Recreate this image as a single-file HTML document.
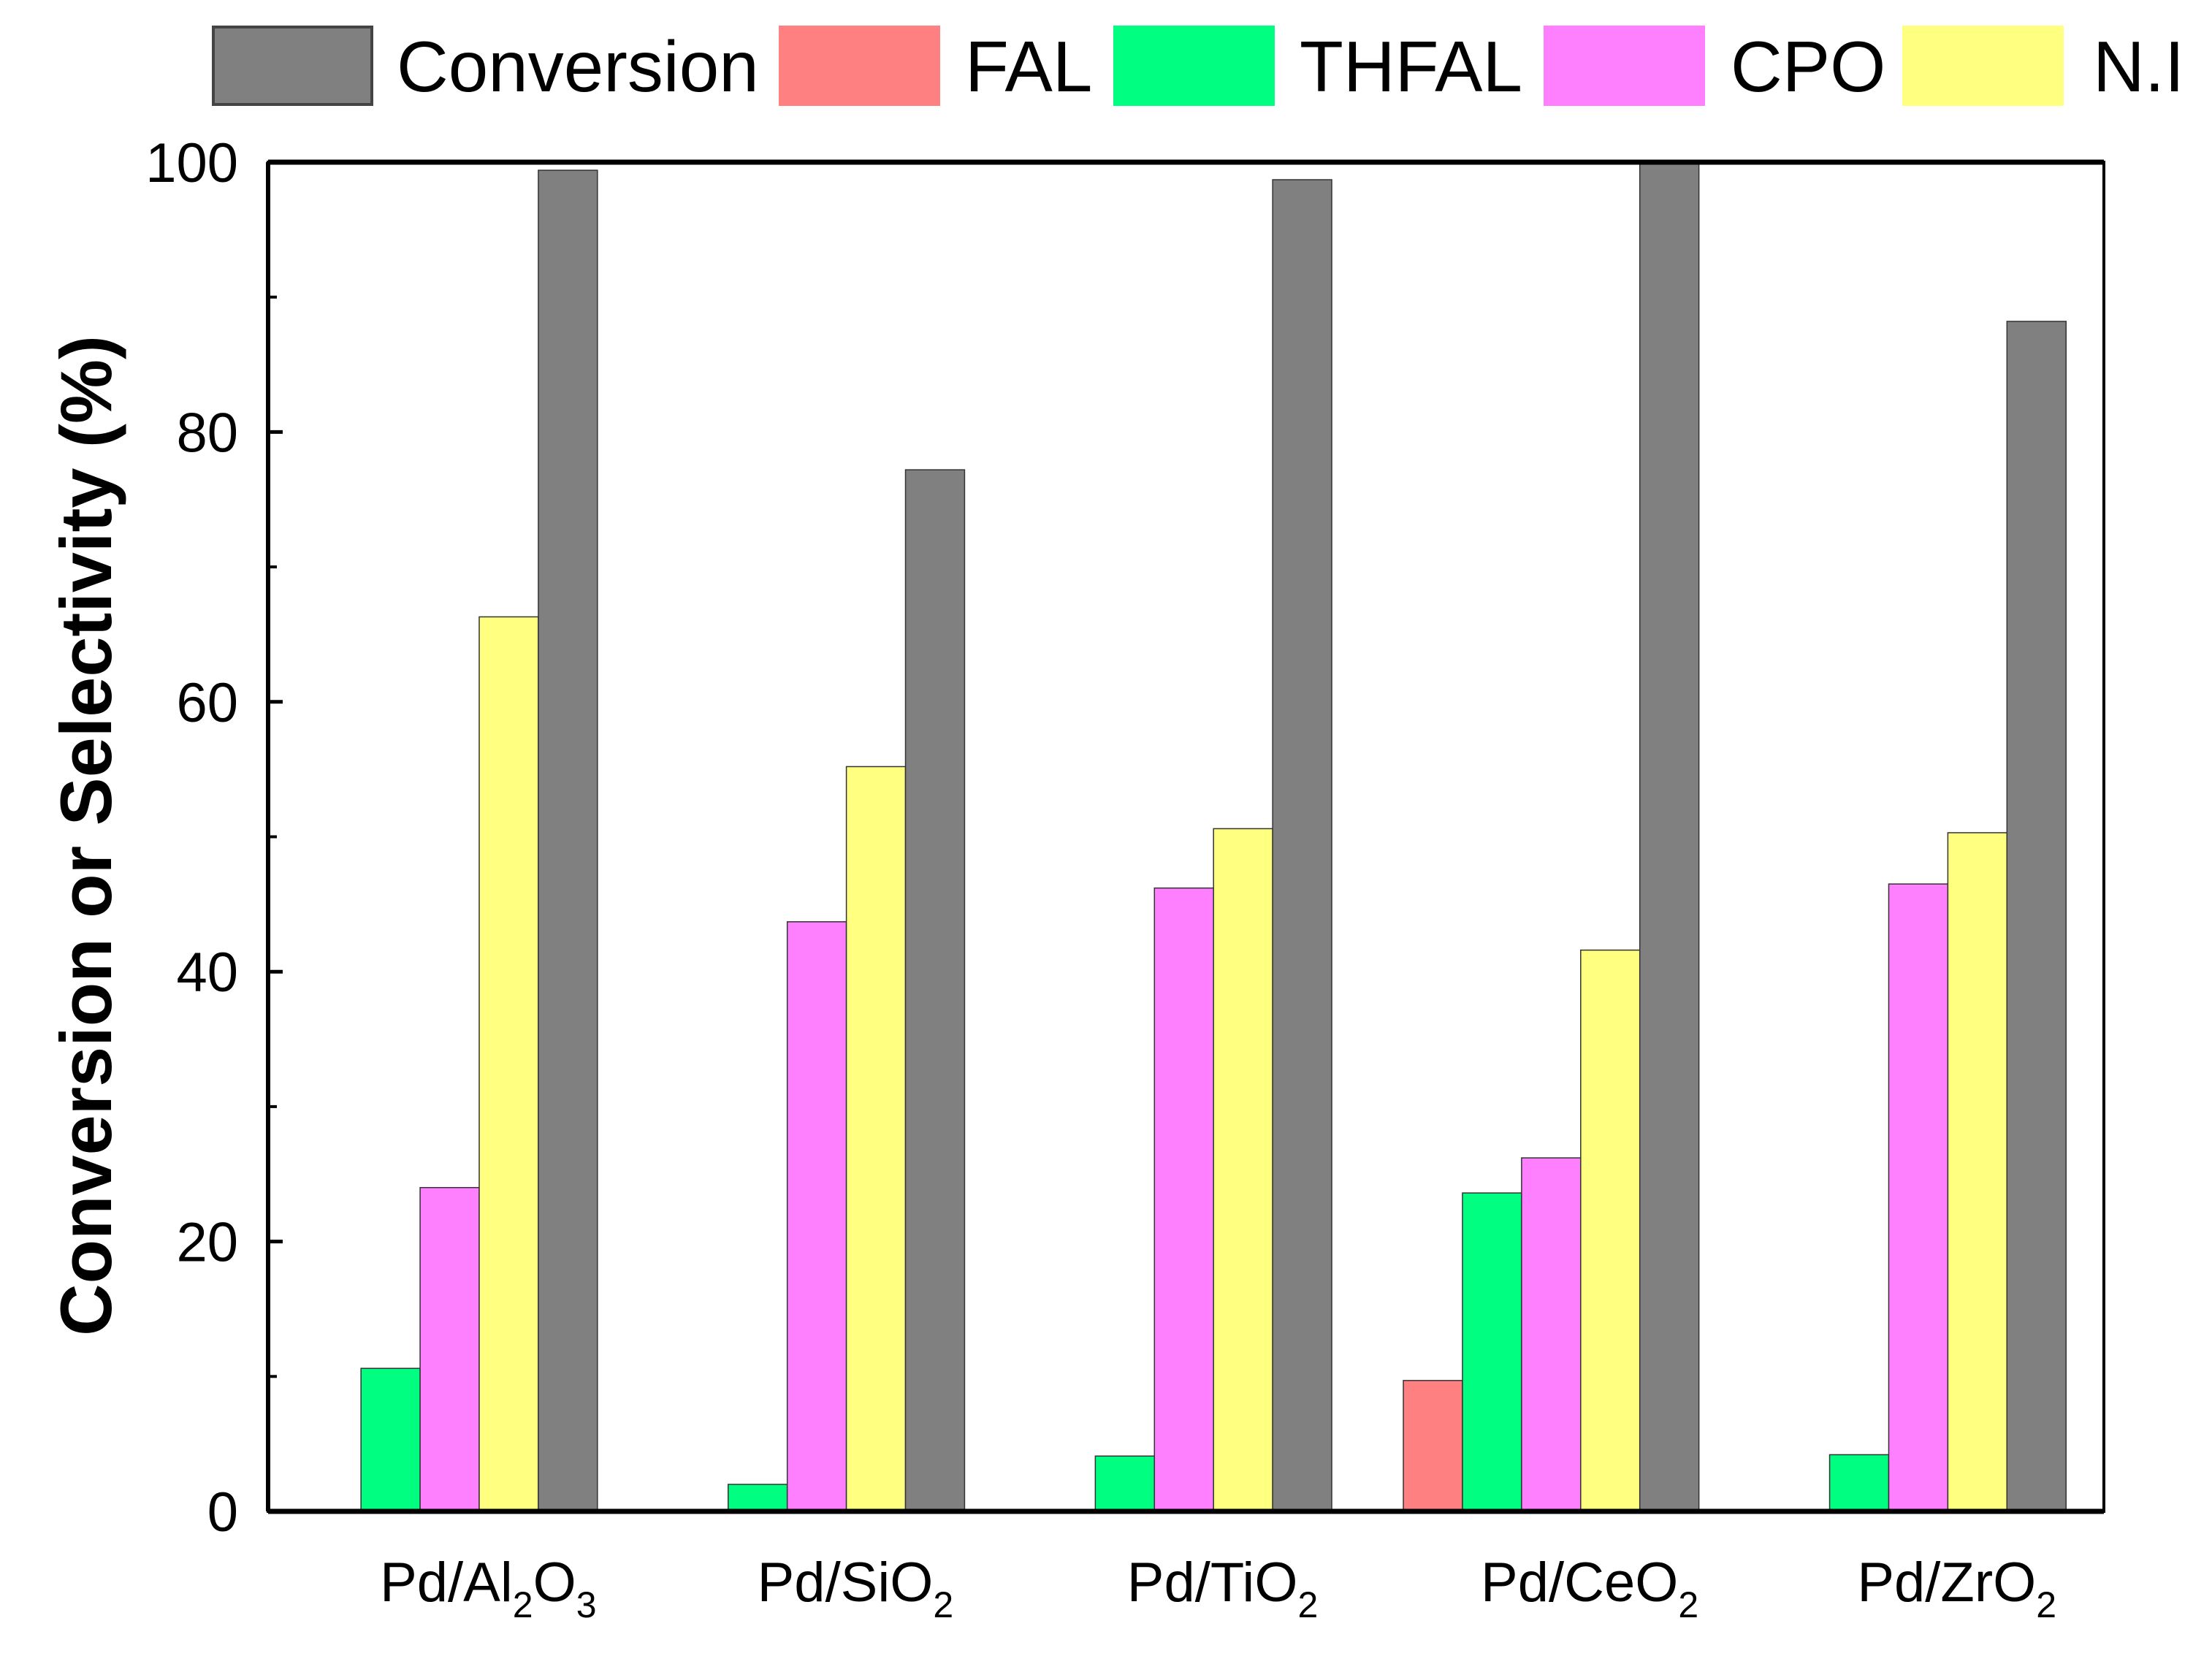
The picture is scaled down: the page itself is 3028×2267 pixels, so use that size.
<!DOCTYPE html>
<html><head><meta charset="utf-8"><style>
html,body{margin:0;padding:0;background:#fff;}
svg{display:block;font-family:"Liberation Sans",Arial,sans-serif;}
</style></head><body>
<svg id="chart" width="3028" height="2267" viewBox="0 0 3028 2267" xmlns="http://www.w3.org/2000/svg">
<g id="legend"></g>
<g id="bars"></g>
<g id="axes"></g>
</svg>
<script>
const categories = ["Al2O3","SiO2","TiO2","CeO2","ZrO2"];
const seriesNames = ["FAL","THFAL","CPO","N.I","Conversion"];
const falValues = [0, 0, 0, 9.7, 0];
const thfalValues = [10.6, 2.0, 4.1, 23.6, 4.2];
const cpoValues = [24.0, 43.7, 46.2, 26.2, 46.5];
const niValues = [66.3, 55.2, 50.6, 41.6, 50.3];
const conversionValues = [99.4, 77.2, 98.7, 100, 88.2];
const yTicks = [0, 20, 40, 60, 80, 100];
const yMinorTicks = [10, 30, 50, 70, 90];

const NS = "http://www.w3.org/2000/svg";
const L = 367, R = 2880, T = 222, B = 2069;
const yMin = 0, yMax = 100;
function y(v){ return B - (v - yMin) / (yMax - yMin) * (B - T); }
const catW = (R - L) / categories.length;
function xCat(i){ return L + catW * i; }
const barW = catW * 0.161;
const groupOff = catW * 0.092;
const colors = ["#ff8080","#00ff80","#ff80ff","#ffff80","#808080"];
const allSeries = [falValues, thfalValues, cpoValues, niValues, conversionValues];

function mk(tag, attrs, parent){
  const e = document.createElementNS(NS, tag);
  for (const k in attrs) e.setAttribute(k, attrs[k]);
  parent.appendChild(e); return e;
}
const bars = document.getElementById('bars');
allSeries.forEach((vals, s) => {
  vals.forEach((v, i) => {
    if (v <= 0) return;
    const x0 = xCat(i) + groupOff + s * barW;
    const r = mk('rect', {x: x0, y: y(v), width: barW, height: y(0) - y(v), fill: colors[s], stroke: "#333", 'stroke-width': 1.5}, bars);
    
    
  });
});

const axes = document.getElementById('axes');
const frame = mk('rect', {x: L, y: T, width: R - L, height: B - T, fill: "none", stroke: "#000", 'stroke-width': 4}, axes);


mk('line', {x1: L, y1: B, x2: R, y2: B, stroke: "#000", 'stroke-width': 7}, axes);
mk('line', {x1: L, y1: T, x2: R, y2: T, stroke: "#000", 'stroke-width': 7}, axes);
mk('line', {x1: L, y1: T, x2: L, y2: B, stroke: "#000", 'stroke-width': 6}, axes);

yTicks.forEach(v => {
  mk('line', {x1: L, y1: y(v), x2: L + 20, y2: y(v), stroke: "#000", 'stroke-width': 5}, axes);
  const t = mk('text', {x: 326, y: y(v) + 27, 'text-anchor': 'end', 'font-size': 76, fill: "#000"}, axes);
  t.textContent = v;
  
  
});
yMinorTicks.forEach(v => {
  mk('line', {x1: L, y1: y(v), x2: L + 12, y2: y(v), stroke: "#000", 'stroke-width': 4}, axes);
});

const title = mk('text', {x: 0, y: 0, transform: 'translate(152,1144) rotate(-90)', 'text-anchor': 'middle', 'font-size': 99, 'font-weight': 'bold', fill: "#000"}, axes);
title.textContent = "Conversion or Selectivity (%)";



const labelParts = {
  "Al2O3": [["Pd/Al",0],["2",1],["O",0],["3",1]],
  "SiO2": [["Pd/SiO",0],["2",1]],
  "TiO2": [["Pd/TiO",0],["2",1]],
  "CeO2": [["Pd/CeO",0],["2",1]],
  "ZrO2": [["Pd/ZrO",0],["2",1]]
};
categories.forEach((c, i) => {
  const t = mk('text', {x: xCat(i) + catW / 2 + 50, y: 2192, 'text-anchor': 'middle', 'font-size': 76, fill: "#000"}, axes);
  
  
  labelParts[c].forEach(([txt, sub]) => {
    const ts = mk('tspan', sub ? {'font-size': 50, dy: 22} : {dy: t.childNodes.length && t.lastChild.getAttribute('dy') == '22' ? -22 : 0}, t);
    ts.textContent = txt;
  });
});

const legend = document.getElementById('legend');
const legendOrder = [4, 0, 1, 2, 3];
const legendLabels = ["Conversion","FAL","THFAL","CPO","N.I"];
const swX = [292, 1068, 1526, 2115, 2606];
const txX = [543, 1321, 1779, 2369, 2865];
legendOrder.forEach((s, k) => {
  const g = mk('g', {}, legend);
  
  
  mk('rect', {x: swX[k], y: 37, width: 217, height: 106, fill: colors[s], stroke: colors[s] === "#808080" ? "#444" : colors[s], 'stroke-width': 4}, g);
  const t = mk('text', {x: txX[k], y: 125, 'font-size': 98, fill: "#000"}, g);
  t.textContent = legendLabels[k];
});
</script>
</body></html>
